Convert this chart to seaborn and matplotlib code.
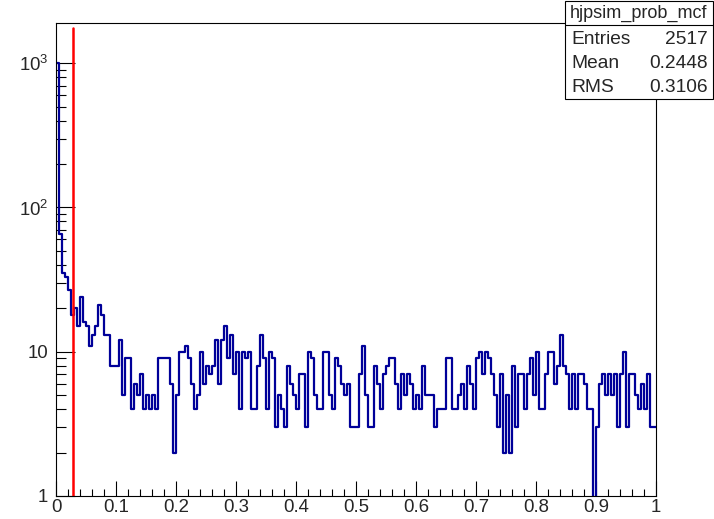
import numpy as np
import pandas as pd
import matplotlib
matplotlib.use('Agg')
import matplotlib.pyplot as plt
import seaborn as sns
from matplotlib.patches import Rectangle
from matplotlib.lines import Line2D
from matplotlib.ticker import FixedLocator, MultipleLocator, NullFormatter, LogLocator

# Histogram binning
x_lo, x_hi, n_bins = 0.0, 1.0, 200

# Bin contents (200 bins of width 0.005)
counts = [
    1000, 65, 35, 33, 27, 18, 20, 15, 24, 16, 15, 11, 13, 15, 21, 18, 13, 13, 8, 8,
    8, 12, 5, 9, 9, 4, 6, 5, 7, 4, 5, 4, 5, 4, 9, 9, 9, 9, 6, 2,
    5, 10, 10, 11, 9, 6, 4, 5, 10, 6, 8, 7, 8, 12, 6, 12, 15, 9, 13, 7,
    10, 4, 10, 9, 10, 4, 4, 8, 13, 9, 4, 10, 9, 3, 5, 4, 3, 8, 6, 5,
    4, 7, 7, 3, 10, 9, 5, 4, 4, 10, 10, 5, 4, 9, 8, 6, 5, 6, 3, 3,
    3, 7, 11, 5, 3, 3, 8, 6, 4, 7, 8, 9, 9, 6, 4, 7, 5, 7, 6, 4,
    5, 4, 8, 5, 5, 5, 3, 4, 4, 4, 9, 9, 4, 4, 5, 6, 4, 8, 6, 4,
    9, 10, 7, 10, 9, 7, 5, 3, 7, 2, 5, 2, 8, 3, 7, 7, 4, 7, 9, 5,
    10, 4, 4, 7, 10, 10, 6, 8, 13, 8, 7, 4, 7, 4, 7, 7, 6, 4, 4, 0,
    3, 6, 7, 5, 7, 5, 7, 3, 7, 10, 3, 7, 7, 5, 4, 6, 4, 7, 3, 3,
]

# Cut line
cut_x = 0.028
cut_top = 1760

# Stats box
hist_name = 'hjpsim_prob_mcf'
stat_names = ['Entries', 'Mean', 'RMS']
stat_values = ['2517', '0.2448', '0.3106']

# Ticks
x_ticks = [0.0, 0.1, 0.2, 0.3, 0.4, 0.5, 0.6, 0.7, 0.8, 0.9, 1.0]
x_tick_labels = ['0', '0.1', '0.2', '0.3', '0.4', '0.5', '0.6', '0.7', '0.8', '0.9', '1']
y_ticks = [1, 10, 100, 1000]
y_tick_labels = ['1', '10', r'$10^{2}$', r'$10^{3}$']

sns.set_theme(style='ticks')
plt.rcParams['font.family'] = ['Liberation Sans', 'DejaVu Sans']
plt.rcParams['mathtext.fontset'] = 'custom'
plt.rcParams['mathtext.rm'] = 'Liberation Sans'
plt.rcParams['mathtext.it'] = 'Liberation Sans:italic'

W, H = 714, 519
fig = plt.figure(figsize=(W / 100, H / 100), dpi=100)
fig.patch.set_facecolor('white')

# frame in pixels: left 56, right 656, top 23, bottom 496
ax = fig.add_axes([56 / W, 1 - 496 / H, 600 / W, 473 / H])
ax.set_facecolor('white')

edges = np.linspace(x_lo, x_hi, n_bins + 1)
centers = 0.5 * (edges[:-1] + edges[1:])
df = pd.DataFrame({'x': centers, 'n': counts})

sns.histplot(data=df, x='x', weights='n', bins=n_bins, binrange=(x_lo, x_hi),
             element='step', fill=False, color='#000099', linewidth=1.6, ax=ax)
ax.set_yscale('log')
ax.set_xlim(x_lo, x_hi)
ax.set_ylim(1, 1900)

# red cut line
ax.plot([cut_x, cut_x], [1, cut_top], color='#ff0000', linewidth=1.8)

ax.set_xlabel('')
ax.set_ylabel('')

for s in ax.spines.values():
    s.set_visible(True)
    s.set_color('black')
    s.set_linewidth(0.8)

ax.xaxis.set_major_locator(FixedLocator(x_ticks))
ax.set_xticklabels(x_tick_labels)
ax.xaxis.set_minor_locator(MultipleLocator(0.02))
ax.yaxis.set_major_locator(FixedLocator(y_ticks))
ax.set_yticklabels(y_tick_labels)
ax.yaxis.set_minor_locator(LogLocator(base=10, subs=np.arange(2, 10)))
ax.yaxis.set_minor_formatter(NullFormatter())

ax.tick_params(axis='x', which='major', direction='in', length=10.5, width=0.8,
               labelsize=13.4, pad=2, color='black', top=False)
ax.tick_params(axis='x', which='minor', direction='in', length=5.2, width=0.8,
               color='black', top=False)
ax.tick_params(axis='y', which='major', direction='in', length=13.5, width=0.8,
               labelsize=13.4, pad=5.5, color='black', right=False)
ax.tick_params(axis='y', which='minor', direction='in', length=7, width=0.8,
               color='black', right=False)

# stats box (figure pixel coordinates)
def fx(px):
    return px / W

def fy(py):
    return 1 - py / H

box_l, box_r, box_t, box_b = 565, 713, 1, 99
fig.add_artist(Rectangle((fx(box_l), fy(box_b)), fx(box_r) - fx(box_l), fy(box_t) - fy(box_b),
                         transform=fig.transFigure, facecolor='white', edgecolor='black',
                         linewidth=0.8, zorder=5))
fig.add_artist(Line2D([fx(box_l), fx(box_r)], [fy(25), fy(25)], transform=fig.transFigure,
                      color='black', linewidth=0.8, zorder=6))
fig.text(fx(638.5), fy(13), hist_name, ha='center', va='center', fontsize=13, zorder=7)
row_y = [40, 63, 87]
for name, val, yy in zip(stat_names, stat_values, row_y):
    fig.text(fx(571), fy(yy), name, ha='left', va='center', fontsize=13.8, zorder=7)
    fig.text(fx(708), fy(yy), val, ha='right', va='center', fontsize=13.8, zorder=7)

fig.savefig('out.png', dpi=100)
